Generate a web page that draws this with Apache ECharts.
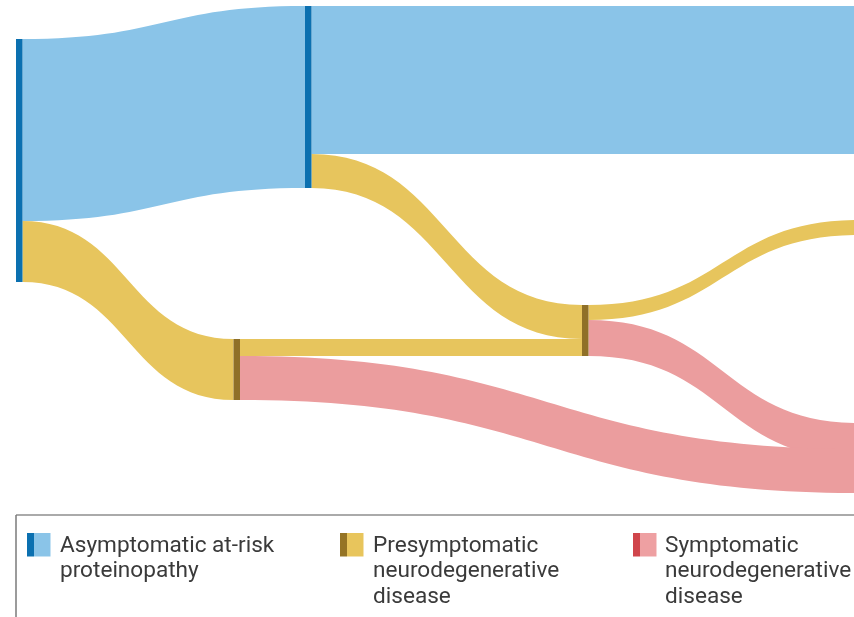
<!DOCTYPE html>
<html>
<head>
<meta charset="utf-8">
<script src="https://cdn.jsdelivr.net/npm/echarts@6/dist/echarts.min.js"></script>
<style>
html,body{margin:0;padding:0;background:#fff;}
#chart{width:854px;height:617px;}
</style>
</head>
<body>
<div id="chart"></div>
<script>
// ---- data ----
const nodeNames = [
  'Asymptomatic (stage 1)',
  'Presymptomatic (stage 2)',
  'Asymptomatic (stage 2)',
  'Presymptomatic (stage 3)',
  'Asymptomatic (stage 4)',
  'Presymptomatic (stage 4)',
  'Symptomatic (stage 4, via stage 3)',
  'Symptomatic (stage 4, via stage 2)'
];
const nodeTypes = ['A', 'P', 'A', 'P', 'A', 'P', 'S', 'S'];
const linkSource = [0, 0, 2, 2, 1, 3, 3, 1];
const linkTarget = [2, 1, 4, 3, 3, 5, 6, 7];
const linkValue  = [182, 61, 148, 34, 17, 15, 36, 44];
const legendTypes = ['A', 'P', 'S'];
const legendLabels = [
  'Asymptomatic at-risk\nproteinopathy',
  'Presymptomatic\nneurodegenerative\ndisease',
  'Symptomatic\nneurodegenerative\ndisease'
];

// ---- styles / layout ----
const flowColor = { A: '#8ac4e8', P: '#e7c55d', S: '#eb9d9e' };
const nodeColor = { A: '#0b70b0', P: '#8f7028', S: '#d1464b' };
const swatchLight = { A: '#8ac4e8', P: '#e8c55c', S: '#eea0a2' };
const swatchDark  = { A: '#0b70b0', P: '#957425', S: '#d0454b' };

const W = 854, H = 243;            // sankey box (1 value unit = 1 px)
const nodePos = [                  // [left px, top px] of each node
  [16, 39], [233.5, 339], [305, 6], [582, 305],
  [858, 6], [858, 220], [858, 423], [858, 449]
];
const legendSwatchX = [27, 340, 633];
const legendTextX = [60, 373, 665];

const chart = echarts.init(document.getElementById('chart'), null, { renderer: 'canvas' });

const nodes = nodeNames.map((name, i) => ({
  name: name,
  depth: i,
  localX: nodePos[i][0] / W,
  localY: nodePos[i][1] / H,
  itemStyle: { color: nodeColor[nodeTypes[i]], borderWidth: 0, opacity: 1 }
}));
const links = linkValue.map((v, i) => ({
  source: nodeNames[linkSource[i]],
  target: nodeNames[linkTarget[i]],
  value: v,
  lineStyle: { color: flowColor[nodeTypes[linkTarget[i]]], opacity: 1, curveness: 0.5 }
}));

const graphics = [
  { type: 'line', shape: { x1: 16, y1: 515, x2: 860, y2: 515 }, style: { stroke: '#8e8e8e', lineWidth: 1.5 } },
  { type: 'line', shape: { x1: 16, y1: 515, x2: 16, y2: 620 }, style: { stroke: '#7a7a7a', lineWidth: 1.5 } }
];
legendTypes.forEach((t, i) => {
  graphics.push({ type: 'rect', shape: { x: legendSwatchX[i] + 7, y: 533, width: 16.5, height: 23.5 }, style: { fill: swatchLight[t] } });
  graphics.push({ type: 'rect', shape: { x: legendSwatchX[i], y: 533, width: 7, height: 23.5 }, style: { fill: swatchDark[t] } });
  graphics.push({
    type: 'text', x: legendTextX[i], y: 533.5,
    style: {
      text: legendLabels[i], fill: '#3a3a3a',
      font: '22.6px Roboto', lineHeight: 25.5, verticalAlign: 'top', align: 'left'
    }
  });
});

chart.setOption({
  animation: false,
  backgroundColor: '#ffffff',
  series: [{
    type: 'sankey',
    left: 0, top: 0, width: W, height: H,
    nodeWidth: 6.5,
    nodeGap: 0,
    nodeAlign: 'left',
    layoutIterations: 0,
    draggable: false,
    label: { show: false },
    emphasis: { disabled: true },
    itemStyle: { borderWidth: 0 },
    lineStyle: { opacity: 1, curveness: 0.5 },
    data: nodes,
    links: links
  }],
  graphic: graphics
});
</script>
</body>
</html>
